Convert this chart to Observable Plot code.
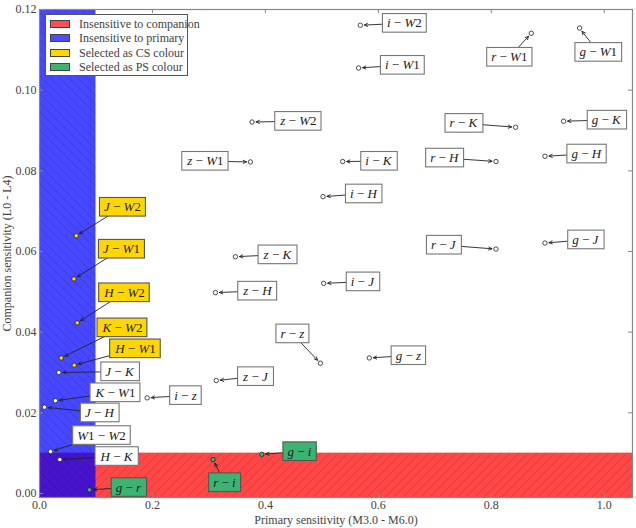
<!DOCTYPE html>
<html>
<head>
<meta charset="utf-8">
<script src="https://cdn.jsdelivr.net/npm/d3@7"></script>
<script src="https://cdn.jsdelivr.net/npm/@observablehq/plot@0.6"></script>
<style>
  html, body { margin: 0; padding: 0; background: #fff; }
  #wrap { position: relative; width: 636px; height: 528px; }
  #legend { position: absolute; left: 45px; top: 14px; width: 143px; height: 62px; box-sizing: border-box;
    border: 1px solid #555; background: #fff; font-family: 'Liberation Serif', 'Times New Roman', serif; font-size: 12px; color: #444; }
  #legend .row { position: absolute; left: 0; height: 14px; line-height: 14px; white-space: nowrap; }
  #legend .sw { position: absolute; left: 4px; top: 3px; width: 20px; height: 8px; box-sizing: border-box; border: 1px solid #444; }
  #legend .tx { position: absolute; left: 33px; top: 0; }
</style>
</head>
<body>
<div id="wrap"></div>
<script>
// ---- data ----
const pairNames = ["J-W2","J-W1","H-W2","K-W2","H-W1","J-K","K-W1","J-H","i-z","W1-W2","H-K","g-r","r-i","g-i",
  "z-W2","z-W1","i-K","i-H","z-K","z-H","i-J","i-W2","i-W1","r-W1","g-W1","r-K","g-K","r-H","g-H","r-J","g-J","r-z","g-z","z-J"];
const primarySens = [0.065,0.061,0.0667,0.0384,0.0614,0.0342,0.0283,0.0088,0.1906,0.0195,0.036,0.0885,0.3074,0.3935,
  0.3764,0.3735,0.5368,0.502,0.3469,0.3115,0.5032,0.568,0.565,0.8708,0.9563,0.843,0.928,0.8083,0.895,0.8083,0.895,0.4973,0.584,0.313];
const companionSens = [0.0639,0.0532,0.0423,0.0336,0.0318,0.0300,0.0230,0.0214,0.0237,0.0104,0.0084,0.0009,0.0084,0.0097,
  0.0921,0.0822,0.0823,0.0736,0.0587,0.0498,0.0521,0.1161,0.1055,0.1141,0.1154,0.0908,0.0923,0.0823,0.0836,0.0606,0.0621,0.0323,0.0336,0.0280];
const labelX = [0.1469,0.1451,0.1504,0.1469,0.1699,0.1416,0.1345,0.1062,0.2584,0.1097,0.1363,0.1575,0.3274,0.4602,
  0.4584,0.2938,0.6000,0.5735,0.4212,0.3858,0.5717,0.6460,0.6425,0.8319,0.9894,0.7504,1.0035,0.7168,0.9681,0.7150,0.9664,0.4478,0.6531,0.3823];
const labelY = [0.0710,0.0606,0.0498,0.0411,0.0359,0.0302,0.0250,0.0200,0.0243,0.0144,0.0092,0.0015,0.0027,0.0104,
  0.0923,0.0824,0.0824,0.0743,0.0592,0.0502,0.0525,0.1166,0.1062,0.1082,0.1094,0.0918,0.0926,0.0832,0.0842,0.0616,0.0629,0.0396,0.0342,0.0290];
const selection = ["CS","CS","CS","CS","CS","none","none","none","none","none","none","PS","PS","PS",
  "none","none","none","none","none","none","none","none","none","none","none","none","none","none","none","none","none","none","none","none"];

const primaryThreshold = 0.1;     // insensitive to primary below this
const companionThreshold = 0.01;  // insensitive to companion below this
const xDomain = [0, 1.05];
const yDomain = [-0.001, 0.12];
const xTicks = [0, 0.2, 0.4, 0.6, 0.8, 1.0];
const yTicks = [0, 0.02, 0.04, 0.06, 0.08, 0.10, 0.12];

const legendLabels = ["Insensitive to companion", "Insensitive to primary", "Selected as CS colour", "Selected as PS colour"];
const legendColors = ["#ff4d4d", "#4d4dff", "#ffd700", "#3cb371"];

// ---- build ----
const selFill = {none: "#ffffff", CS: "#ffd700", PS: "#3cb371"};
const rows = pairNames.map((n, i) => ({
  name: n, label: n.replace("-", "\u00a0−\u00a0"),
  x: primarySens[i], y: companionSens[i], lx: labelX[i], ly: labelY[i], sel: selection[i]
}));
const regions = [
  {x1: xDomain[0], x2: xDomain[1], y1: yDomain[0], y2: companionThreshold, fill: "red"},
  {x1: xDomain[0], x2: primaryThreshold, y1: yDomain[0], y2: yDomain[1], fill: "blue"}
];

const W = 636, H = 528, mL = 39, mR = 4, mT = 9, mB = 31;
const pW = W - mL - mR, pH = H - mT - mB;
const frameCol = "#888";
const serif = "'Liberation Serif', 'Times New Roman', serif";

const chart = Plot.plot({
  width: W, height: H,
  marginLeft: mL, marginRight: mR, marginTop: mT, marginBottom: mB,
  style: {fontFamily: serif, fontSize: "12px", color: "#444", background: "#fff", overflow: "visible"},
  x: {domain: xDomain},
  y: {domain: yDomain},
  marks: [
    Plot.rect(regions.slice(0,1), {x1: "x1", x2: "x2", y1: "y1", y2: "y2", fill: "fill", fillOpacity: 0.72}),
    Plot.rect(regions.slice(0,1), {x1: "x1", x2: "x2", y1: "y1", y2: "y2", fill: "url(#hatchR)"}),
    Plot.rect(regions.slice(1,2), {x1: "x1", x2: "x2", y1: "y1", y2: "y2", fill: "fill", fillOpacity: 0.72}),
    Plot.rect(regions.slice(1,2), {x1: "x1", x2: "x2", y1: "y1", y2: "y2", fill: "url(#hatchB)"}),
    Plot.axisX(xTicks, {tickSize: 0, tickPadding: 3, tickFormat: d3.format(".1f"), fontSize: 12, fontFamily: serif,
      label: "Primary sensitivity (M3.0 - M6.0)", labelAnchor: "center", labelArrow: "none", labelOffset: 26}),
    Plot.axisY(yTicks, {tickSize: 0, tickPadding: 3, tickFormat: d3.format(".2f"), fontSize: 12, fontFamily: serif,
      label: "Companion sensitivity (L0 - L4)", labelAnchor: "center", labelArrow: "none", labelOffset: 37}),
    Plot.ruleX(xTicks, {x: d => d, insetTop: pH - 4, stroke: frameCol}),
    Plot.ruleX(xTicks, {x: d => d, insetBottom: pH - 4, stroke: frameCol}),
    Plot.ruleY(yTicks, {y: d => d, insetRight: pW - 4, stroke: frameCol}),
    Plot.ruleY(yTicks, {y: d => d, insetLeft: pW - 4, stroke: frameCol}),
    Plot.arrow(rows, {x1: "lx", y1: "ly", x2: "x", y2: "y", insetEnd: 4, headLength: 6, headAngle: 50,
      stroke: "#222", strokeWidth: 0.9}),
    Plot.dot(rows, {x: "x", y: "y", r: 2.2, fill: d => selFill[d.sel], stroke: "#222", strokeWidth: 0.8}),
    Plot.text(rows, {x: "lx", y: "ly", text: "label", className: "pairlbl", fontSize: 13,
      fontFamily: serif, fill: "#222", textAnchor: "middle"}),
    Plot.frame({stroke: frameCol, strokeWidth: 1.2})
  ]
});

const wrap = document.getElementById("wrap");
wrap.appendChild(chart);

// hatch patterns
const NS = "http://www.w3.org/2000/svg";
const defs = document.createElementNS(NS, "defs");
defs.innerHTML = `
  <pattern id="hatchR" patternUnits="userSpaceOnUse" width="9" height="9">
    <path d="M-2,2 l4,-4 M0,9 l9,-9 M7,11 l4,-4" stroke="rgba(120,0,0,0.28)" stroke-width="0.7"/>
  </pattern>
  <pattern id="hatchB" patternUnits="userSpaceOnUse" width="9" height="9">
    <path d="M-2,7 l4,4 M0,0 l9,9 M7,-2 l4,4" stroke="rgba(0,0,90,0.22)" stroke-width="0.7"/>
  </pattern>`;
chart.insertBefore(defs, chart.firstChild);

// math-style labels with boxes
const texts = Array.from(chart.querySelectorAll("g.pairlbl text"));
texts.forEach((t, i) => {
  const s = t.textContent;
  t.textContent = "";
  t.style.whiteSpace = "pre";
  const parts = s.match(/[A-Za-z]+|[0-9]+|[^A-Za-z0-9]+/g);
  parts.forEach(p => {
    const ts = document.createElementNS(NS, "tspan");
    ts.textContent = p;
    if (/[A-Za-z]/.test(p)) ts.setAttribute("font-style", "italic");
    t.appendChild(ts);
  });
  const d = rows[i];
  const bb = t.getBBox();
  const padX = 4.5, padY = 1.8;
  const r = document.createElementNS(NS, "rect");
  r.setAttribute("x", bb.x - padX);
  r.setAttribute("y", bb.y - padY);
  r.setAttribute("width", bb.width + 2 * padX);
  r.setAttribute("height", bb.height + 2 * padY);
  const tr = t.getAttribute("transform");
  if (tr) r.setAttribute("transform", tr);
  r.setAttribute("fill", selFill[d.sel]);
  r.setAttribute("stroke", d.sel === "none" ? "#777" : "#555");
  r.setAttribute("stroke-width", "1.1");
  t.parentNode.insertBefore(r, t);
});

// legend
const leg = document.createElement("div");
leg.id = "legend";
legendLabels.forEach((lab, i) => {
  const row = document.createElement("div");
  row.className = "row";
  row.style.top = (2 + i * 14.4) + "px";
  row.innerHTML = `<span class="sw" style="background:${legendColors[i]}"></span><span class="tx">${lab}</span>`;
  leg.appendChild(row);
});
wrap.appendChild(leg);
</script>
</body>
</html>
